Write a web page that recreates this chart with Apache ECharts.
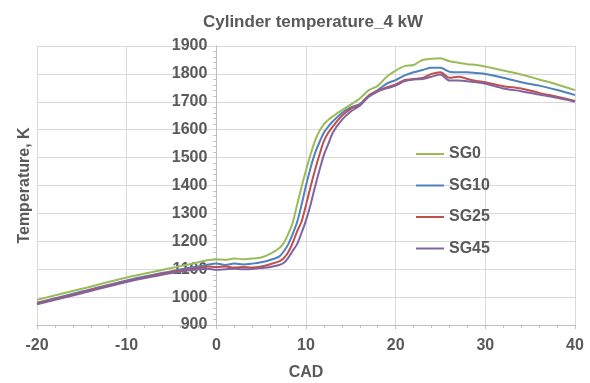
<!DOCTYPE html>
<html>
<head>
<meta charset="utf-8">
<script src="https://cdn.jsdelivr.net/npm/echarts@6/dist/echarts.min.js"></script>
<style>html,body{margin:0;padding:0;background:#fff}#c{width:590px;height:383px}</style>
</head>
<body>
<div id="c"></div>
<script>
const cad = [-20,-15,-10,-5,-3,-2,-1,0,1,2,3,4,5,6,7,7.5,8,8.5,9,9.5,10,10.5,11,11.5,12,12.5,13,14,15,16,17,18,19,20,21,22,23,24,25,26,27,28,29,30,32,34,36,38,40];
const sg0 = [990,1030,1070,1104,1118,1125,1132,1135,1134,1138,1136,1138,1142,1155,1175,1193,1225,1265,1330,1395,1455,1510,1560,1595,1620,1636,1648,1670,1690,1712,1742,1757,1790,1812,1828,1832,1850,1854,1856,1845,1840,1835,1832,1826,1812,1798,1780,1762,1742];
const sg10 = [980,1020,1060,1093,1105,1110,1116,1120,1115,1120,1117,1120,1125,1133,1145,1163,1188,1225,1268,1330,1400,1462,1515,1555,1590,1612,1630,1660,1680,1692,1722,1742,1765,1778,1795,1806,1814,1822,1822,1808,1806,1806,1803,1800,1786,1770,1758,1742,1724];
const sg25 = [977,1017,1057,1090,1100,1104,1110,1108,1110,1106,1108,1106,1110,1118,1128,1139,1160,1193,1235,1270,1330,1395,1455,1510,1560,1590,1612,1650,1675,1688,1722,1740,1752,1762,1778,1782,1785,1800,1806,1786,1790,1782,1775,1770,1756,1748,1732,1718,1703];
const sg45 = [974,1014,1054,1086,1096,1100,1102,1098,1100,1102,1100,1101,1104,1108,1115,1122,1140,1165,1190,1230,1275,1330,1395,1455,1510,1550,1590,1635,1665,1686,1718,1737,1748,1758,1774,1780,1782,1790,1798,1776,1776,1774,1770,1765,1748,1738,1726,1714,1700];
const seriesNames = ['SG0','SG10','SG25','SG45'];
const seriesColors = ['#9BBB59','#4F81BD','#C0504D','#8064A2'];
const seriesValues = [sg0, sg10, sg25, sg45];

const font = 'Liberation Sans, Arial, sans-serif';
const txt = '#595959';
const gridLeft = 37, gridRight = 15;
const plotW = 590 - gridLeft - gridRight;
const xMin = -20, xMax = 40;
const yAxisShift = -plotW * (0 - xMin) / (xMax - xMin);
const chart = echarts.init(document.getElementById('c'));
chart.setOption({
  animation: false,
  backgroundColor: '#fff',
  title: {
    text: 'Cylinder temperature_4 kW',
    left: 308, top: 9, textAlign: 'center',
    textStyle: {fontFamily: font, fontSize: 17, fontWeight: 'bold', color: txt}
  },
  legend: {
    orient: 'vertical', left: 411, top: 141,
    itemWidth: 28, itemHeight: 2, itemGap: 15.5, icon: 'rect',
    textStyle: {fontFamily: font, fontSize: 16, fontWeight: 'bold', color: txt, lineHeight: 16},
    data: seriesNames
  },
  grid: {left: gridLeft, right: gridRight, top: 46, bottom: 58, containLabel: false, outerBoundsMode: 'none'},
  xAxis: {
    type: 'value', min: xMin, max: xMax, interval: 10,
    name: 'CAD', nameLocation: 'middle', nameGap: 40,
    nameTextStyle: {fontFamily: font, fontSize: 16, fontWeight: 'bold', color: txt},
    axisLine: {onZero: false, lineStyle: {color: '#bfbfbf', width: 1}},
    axisTick: {show: true, length: 4, lineStyle: {color: '#bfbfbf'}},
    minorTick: {show: true, splitNumber: 5, length: 3, lineStyle: {color: '#bfbfbf'}},
    axisLabel: {fontFamily: font, fontSize: 16, fontWeight: 'bold', color: txt, margin: 13},
    splitLine: {show: true, lineStyle: {color: '#d9d9d9', width: 1}}
  },
  yAxis: {
    type: 'value', min: 900, max: 1900, interval: 100,
    offset: yAxisShift,
    name: 'Temperature, K', nameLocation: 'middle', nameGap: 184,
    nameTextStyle: {fontFamily: font, fontSize: 16, fontWeight: 'bold', color: txt},
    axisLine: {show: true, onZero: false, lineStyle: {color: '#bfbfbf', width: 1}},
    axisTick: {show: false},
    minorTick: {show: true, splitNumber: 5, length: 3, lineStyle: {color: '#bfbfbf'}},
    axisLabel: {fontFamily: font, fontSize: 16, fontWeight: 'bold', color: txt, margin: 9, formatter: v => String(v)},
    splitLine: {show: true, lineStyle: {color: '#d9d9d9', width: 1}}
  },
  series: seriesNames.map((n, i) => ({
    name: n, type: 'line', symbol: 'none', smooth: 0.3,
    color: seriesColors[i],
    lineStyle: {width: 2, color: seriesColors[i]},
    data: cad.map((x, j) => [x, seriesValues[i][j]])
  }))
});
</script>
</body>
</html>
